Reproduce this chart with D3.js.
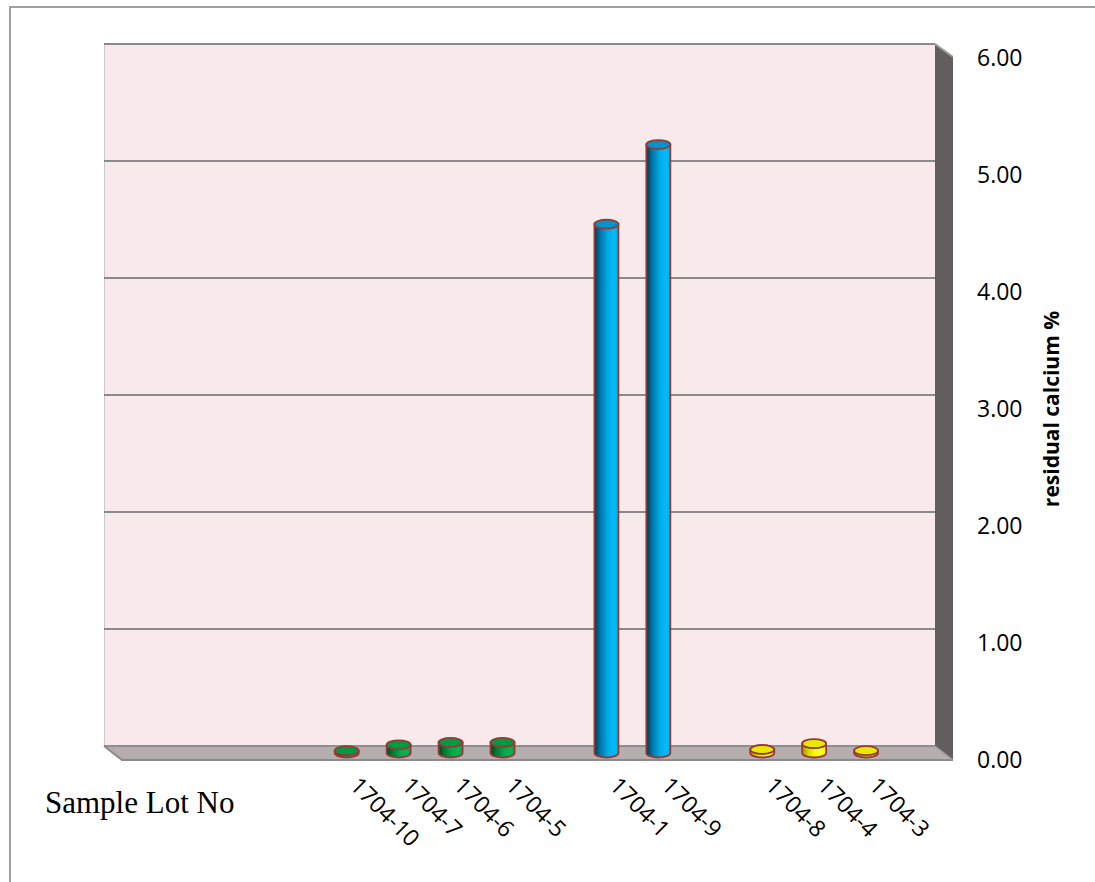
<!DOCTYPE html>
<html>
<head>
<meta charset="utf-8">
<script src="https://cdn.jsdelivr.net/npm/d3@7"></script>
<style>
  html, body { margin: 0; padding: 0; background: #ffffff; }
  svg { display: block; }
</style>
</head>
<body>
<svg id="chart" width="1095" height="882"></svg>
<script>
// Category slots along the floor (empty strings are unused slots)
const lots = ["", "", "", "", "1704-10", "1704-7", "1704-6", "1704-5", "", "1704-1", "1704-9", "", "1704-8", "1704-4", "1704-3", ""];
// Residual calcium (%) per slot; null where no sample
const calcium = [null, null, null, null, 0.02, 0.07, 0.09, 0.09, null, 4.52, 5.20, null, 0.03, 0.08, 0.02, null];
// Colour group per slot
const groups = [null, null, null, null, "green", "green", "green", "green", null, "blue", "blue", null, "yellow", "yellow", "yellow", null];
const yTicks = [0, 1, 2, 3, 4, 5, 6];
const yTitle = "residual calcium %";
const xTitle = "Sample Lot No";

const svg = d3.select("#chart");

// back wall box and depth offset of the 3D frame
const wall = { left: 104, right: 935, top: 44, bottom: 746 };
const depth = { dx: 18, dy: 14 };

const x = d3.scaleBand().domain(d3.range(lots.length)).range([wall.left, wall.right]).padding(0);
const y = d3.scaleLinear().domain([0, 6]).range([wall.bottom, wall.top]);

// outer chart frame (only left and top visible)
svg.append("path")
  .attr("d", `M10,882 L10,7 L1095,7`)
  .attr("fill", "none").attr("stroke", "#a0a0a0").attr("stroke-width", 2);

// back wall
svg.append("rect")
  .attr("x", wall.left).attr("y", wall.top)
  .attr("width", wall.right - wall.left).attr("height", wall.bottom - wall.top)
  .attr("fill", "#f8eaea");
svg.append("line")
  .attr("x1", wall.left + 0.5).attr("x2", wall.left + 0.5)
  .attr("y1", wall.top).attr("y2", wall.bottom)
  .attr("stroke", "#d0c8c8").attr("stroke-width", 1);

// gridlines on the back wall
svg.append("g").selectAll("line")
  .data(yTicks.filter(t => t > 0))
  .join("line")
  .attr("x1", wall.left).attr("x2", wall.right)
  .attr("y1", d => y(d)).attr("y2", d => y(d))
  .attr("stroke", "#8a8a8a").attr("stroke-width", 2);

// right side wall
svg.append("path")
  .attr("d", `M${wall.right},${wall.top} L${wall.right + depth.dx},${wall.top + depth.dy - 1} L${wall.right + depth.dx},${wall.bottom + depth.dy} L${wall.right},${wall.bottom} Z`)
  .attr("fill", "#625e5e");
svg.append("line")
  .attr("x1", wall.right).attr("y1", wall.top)
  .attr("x2", wall.right + depth.dx).attr("y2", wall.top + depth.dy - 1)
  .attr("stroke", "#9a9a9a").attr("stroke-width", 2);

// floor
svg.append("path")
  .attr("d", `M${wall.left},${wall.bottom} L${wall.right},${wall.bottom} L${wall.right + depth.dx},${wall.bottom + depth.dy} L${wall.left + depth.dx},${wall.bottom + depth.dy} Z`)
  .attr("fill", "#b6aeae");
svg.append("line")
  .attr("x1", wall.left).attr("x2", wall.right)
  .attr("y1", wall.bottom).attr("y2", wall.bottom)
  .attr("stroke", "#8f8f8f").attr("stroke-width", 2);
svg.append("path")
  .attr("d", `M${wall.left},${wall.bottom} L${wall.left + depth.dx},${wall.bottom + depth.dy} L${wall.right + depth.dx},${wall.bottom + depth.dy}`)
  .attr("fill", "none").attr("stroke", "#8a8a8a").attr("stroke-width", 2);
svg.append("line")
  .attr("x1", wall.right).attr("y1", wall.bottom)
  .attr("x2", wall.right + depth.dx).attr("y2", wall.bottom + depth.dy)
  .attr("stroke", "#9a9a9a").attr("stroke-width", 1.5);

// cylinder shading gradients
const palette = {
  blue:   { stops: ["#003a55", "#0077a8", "#00a9e6", "#00bcf8", "#00aee8"], top: "#0093cc" },
  green:  { stops: ["#00451c", "#007a35", "#00a84a", "#00b552", "#00a64a"], top: "#009a42" },
  yellow: { stops: ["#9a9a00", "#d6d600", "#ffff00", "#ffff30", "#f5f500"], top: "#e8e800" }
};
const defs = svg.append("defs");
Object.entries(palette).forEach(([k, p]) => {
  const g = defs.append("linearGradient").attr("id", "cyl-" + k)
    .attr("x1", "0%").attr("x2", "100%").attr("y1", "0%").attr("y2", "0%");
  const offs = [0, 0.25, 0.55, 0.8, 1];
  p.stops.forEach((c, i) => g.append("stop").attr("offset", offs[i]).attr("stop-color", c));
});

// cylinders stand at half depth
const midDx = depth.dx / 2, midDy = depth.dy / 2;
const rx = 12, ry = 4.5;
const outline = "#963a36";
const barData = calcium.map((v, i) => ({ i, v, g: groups[i] })).filter(d => d.v != null);

const bars = svg.append("g").selectAll("g").data(barData).join("g");
bars.append("path")
  .attr("d", d => {
    const cx = x(d.i) + x.bandwidth() / 2 + midDx;
    const yb = y(0) + midDy, yt = y(d.v) + midDy;
    return `M${cx - rx},${yt} L${cx - rx},${yb} A${rx},${ry} 0 0 0 ${cx + rx},${yb} L${cx + rx},${yt} Z`;
  })
  .attr("fill", d => `url(#cyl-${d.g})`)
  .attr("stroke", outline).attr("stroke-width", 1.8);
bars.append("ellipse")
  .attr("cx", d => x(d.i) + x.bandwidth() / 2 + midDx)
  .attr("cy", d => y(d.v) + midDy)
  .attr("rx", rx).attr("ry", ry)
  .attr("fill", d => palette[d.g].top)
  .attr("stroke", outline).attr("stroke-width", 1.8);

// value axis labels on the right, aligned with the front plane
svg.append("g").selectAll("text")
  .data(yTicks)
  .join("text")
  .attr("x", wall.right + depth.dx + 24)
  .attr("y", d => y(d) + depth.dy)
  .attr("dy", "0.36em")
  .attr("font-family", "Open Sans, sans-serif")
  .attr("font-size", 23)
  .attr("fill", "#000")
  .text(d => d3.format(".2f")(d));

svg.append("text")
  .attr("transform", `translate(1052,${(y(0) + y(6)) / 2 + depth.dy}) rotate(-90)`)
  .attr("text-anchor", "middle")
  .attr("dy", "0.35em")
  .attr("font-family", "Open Sans, sans-serif")
  .attr("font-weight", "bold")
  .attr("font-size", 21)
  .attr("fill", "#000")
  .text(yTitle);

// category labels, rotated
svg.append("g").selectAll("text")
  .data(lots.map((l, i) => ({ l, i })).filter(d => d.l))
  .join("text")
  .attr("transform", d => `translate(${x(d.i) + x.bandwidth() / 2 + midDx + 2},${y(0) + depth.dy + 27}) rotate(45)`)
  .attr("font-family", "Open Sans, sans-serif")
  .attr("font-size", 23)
  .attr("fill", "#000")
  .text(d => d.l);

svg.append("text")
  .attr("x", 45).attr("y", 813)
  .attr("font-family", "Liberation Serif, Times New Roman, serif")
  .attr("font-size", 31)
  .attr("fill", "#000")
  .text(xTitle);
</script>
</body>
</html>
